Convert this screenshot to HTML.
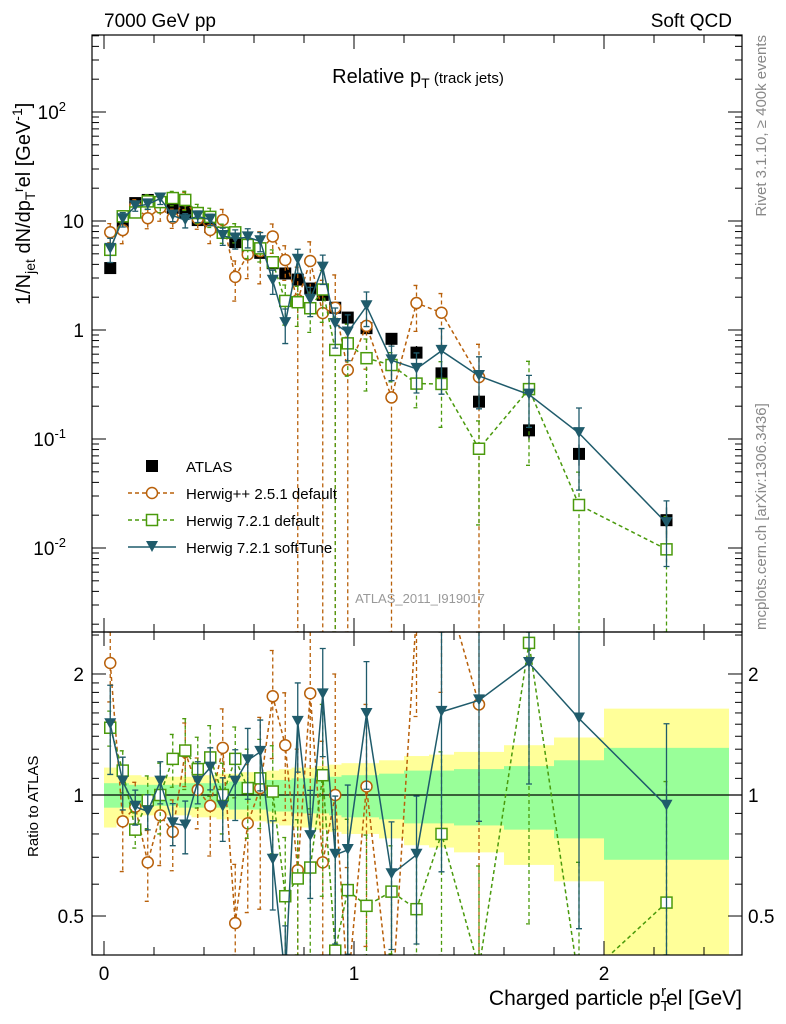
<!DOCTYPE html>
<html><head><meta charset="utf-8"><style>
html,body{margin:0;padding:0;background:#fff;width:786px;height:1024px;overflow:hidden}
svg{display:block;font-family:"Liberation Sans",sans-serif}
</style></head><body>
<svg id="c" width="786" height="1024" viewBox="0 0 786 1024">
<defs>
<clipPath id="cm"><rect x="92" y="35" width="650" height="597"/></clipPath>
<clipPath id="cr"><rect x="92" y="632" width="650" height="323"/></clipPath>
</defs>
<g id="bands" clip-path="url(#cr)"></g>
<g id="marks"></g>
<rect x="92" y="35" width="650" height="597" fill="none" stroke="#000" stroke-width="1.2"/>
<rect x="92" y="632" width="650" height="323" fill="none" stroke="#000" stroke-width="1.2"/>
<g id="ticks" stroke="#000" stroke-width="1"></g>
<g id="labels" font-size="19"></g>
<text x="104" y="27" font-size="19">7000 GeV pp</text>
<text x="732" y="27" font-size="19" text-anchor="end">Soft QCD</text>
<text x="418" y="83" font-size="20" text-anchor="middle">Relative p<tspan font-size="14" dy="5">T</tspan><tspan font-size="15" dy="-5"> (track jets)</tspan></text>
<text transform="translate(766,35) rotate(-90)" font-size="15" fill="#888" text-anchor="end">Rivet 3.1.10, ≥ 400k events</text>
<text transform="translate(766,630) rotate(-90)" font-size="15" fill="#888">mcplots.cern.ch [arXiv:1306.3436]</text>
<text transform="translate(30,305) rotate(-90)" font-size="20">1/N<tspan font-size="14" dy="5">jet</tspan><tspan dy="-5"> dN/dp</tspan><tspan font-size="14" dy="5">T</tspan><tspan font-size="14" dy="-12">r</tspan><tspan dy="7">el [GeV</tspan><tspan font-size="14" dy="-8">-1</tspan><tspan dy="8">]</tspan></text>
<text transform="translate(38,857) rotate(-90)" font-size="15">Ratio to ATLAS</text>
<text x="742" y="1005" font-size="21" text-anchor="end">Charged particle p<tspan font-size="15" dy="6">T</tspan><tspan font-size="15" dy="-15" dx="-8">r</tspan><tspan dy="9">el [GeV]</tspan></text>
<text x="420" y="603" font-size="13" fill="#999" text-anchor="middle">ATLAS_2011_I919017</text>
<g id="legend" font-size="15"></g>
</svg>
<script>
const edges=[0,0.05,0.1,0.15,0.2,0.25,0.3,0.35,0.4,0.45,0.5,0.55,0.6,0.65,0.7,0.75,0.8,0.85,0.9,0.95,1.0,1.1,1.2,1.3,1.4,1.6,1.8,2.0,2.5];
const atlas=[3.7,9.6,14.6,15.6,14.9,13.2,12.1,10.2,8.8,7.8,6.4,5.8,5.1,4.1,3.3,2.9,2.4,2.1,1.6,1.3,1.04,0.83,0.62,0.40,0.22,0.12,0.073,0.018];
const statUnc=[0.07,0.07,0.06,0.06,0.06,0.06,0.07,0.07,0.07,0.07,0.08,0.08,0.08,0.09,0.09,0.1,0.1,0.1,0.11,0.12,0.12,0.13,0.15,0.15,0.16,0.18,0.22,0.31];
const totUnc=[0.17,0.15,0.12,0.11,0.11,0.11,0.11,0.12,0.12,0.13,0.13,0.14,0.14,0.15,0.16,0.17,0.17,0.18,0.19,0.2,0.2,0.22,0.25,0.26,0.28,0.33,0.39,0.64];
const herwigOldRatio=[2.13,0.86,0.935,0.68,0.89,0.81,1.28,1.03,0.94,1.31,0.48,0.85,1.04,1.76,1.33,0.65,1.79,0.68,1.0,0.33,1.05,0.29,2.85,3.6,1.68];
const herwigOldErr=[0.2,0.25,0.15,0.2,0.25,0.2,0.18,0.2,0.25,0.25,0.4,0.4,0.5,0.3,0.35,1.0,0.5,1.0,1.0,1.0,0.6,1.0,0.45,0.5,1.0];
const herwig72Ratio=[1.47,1.15,0.82,0.97,1.0,1.23,1.29,1.16,1.24,1.0,1.23,1.04,1.10,1.02,0.56,0.62,0.66,1.12,0.41,0.58,0.53,0.575,0.52,0.80,0.37,2.39,0.34,0.54];
const herwig72Err=[0.1,0.12,0.1,0.15,0.2,0.15,0.2,0.2,0.2,0.2,0.2,0.25,0.25,0.3,0.4,0.4,0.4,0.5,1.0,0.5,0.5,0.3,0.4,0.6,0.8,0.8,1.0,1.0];
const softTuneRatio=[1.50,1.08,0.935,0.91,1.08,0.85,0.84,1.08,1.17,0.935,1.08,1.22,1.28,0.69,0.35,1.52,0.79,1.78,0.71,0.73,1.59,0.635,0.71,1.61,1.72,2.13,1.55,0.94];
const softTuneErr=[0.25,0.15,0.1,0.1,0.12,0.12,0.15,0.12,0.12,0.18,0.2,0.2,0.2,0.25,0.35,0.25,0.3,0.3,0.4,0.45,0.35,0.35,0.4,0.6,0.5,0.5,0.7,0.6];
const xTicks=[0,1,2];
const yTicks=[-2,-1,0,1,2];
const rTicks=[0.5,1,2];

const NS='http://www.w3.org/2000/svg';
const X=v=>104+250*v;
const Y=v=>330-109*Math.log10(v);
const R=v=>795-402*Math.log10(v);
const cm=y=>Math.min(Math.max(y,35),632);
const cr=y=>Math.min(Math.max(y,632),955);
const cen=i=>(edges[i]+edges[i+1])/2;
function mk(tag,par,at){const e=document.createElementNS(NS,tag);for(const k in at)e.setAttribute(k,at[k]);par.appendChild(e);return e;}
const marks=document.getElementById('marks');
const mainG=mk('g',marks,{'clip-path':'url(#cm)'});


const ratG=mk('g',marks,{'clip-path':'url(#cr)'});



const bands=document.getElementById('bands');
for(let i=0;i<atlas.length;i++){
  const x0=X(edges[i]),x1=X(edges[i+1]);
  const top=cr(R(1+totUnc[i])),bot=cr(R(Math.max(1-totUnc[i],0.01)));
  const yb=mk('rect',bands,{x:x0,y:top,width:x1-x0,height:bot-top,fill:'#ffff99'});
  
  
  const gb=mk('rect',bands,{x:x0,y:R(1+statUnc[i]),width:x1-x0,height:R(1-statUnc[i])-R(1+statUnc[i]),fill:'#99ff99'});
  
  
}
const ref=mk('line',ratG,{x1:92,x2:742,y1:R(1),y2:R(1),stroke:'#000','stroke-width':1.3});



function marker(g,type,x,y,col){
  let e;
  if(type==='circle')e=mk('circle',g,{cx:x,cy:y,r:5.5,fill:'#fff',stroke:col,'stroke-width':1.5});
  else if(type==='square')e=mk('rect',g,{x:x-5.5,y:y-5.5,width:11,height:11,fill:'#fff',stroke:col,'stroke-width':1.5});
  else if(type==='tri')e=mk('path',g,{d:`M${x-6},${y-6}L${x+6},${y-6}L${x},${y+5}Z`,fill:col});
  else e=mk('rect',g,{x:x-6,y:y-6,width:12,height:12,fill:col});
  return e;
}
function series(name,ratio,err,col,type,dash){
  const gm=mk('g',mainG,{});
  
  
  const gr=mk('g',ratG,{});
  
  
  const da=dash?{'stroke-dasharray':'4,3'}:{};
  let pm='',pr='';
  ratio.forEach((r,i)=>{
    const v=r*atlas[i],x=X(cen(i));
    pm+=(i?'L':'M')+x+','+Y(v);pr+=(i?'L':'M')+x+','+R(r);
  });
  const lm=mk('path',gm,Object.assign({d:pm,fill:'none',stroke:col,'stroke-width':1.5},da));
  
  
  const lr=mk('path',gr,Object.assign({d:pr,fill:'none',stroke:col,'stroke-width':1.5},da));
  
  
  ratio.forEach((r,i)=>{
    const v=r*atlas[i],x=X(cen(i)),e=err[i];
    const lo=Math.max(1-e,1e-4);
    [[gm,cm(Y(v*(1+e))),cm(Y(v*lo))],[gr,cr(R(r*(1+e))),cr(R(r*lo))]].forEach(([g,a,b])=>{
      if(a===b)return;
      const eb=mk('path',g,Object.assign({d:`M${x},${a}L${x},${b}M${x-3},${a}L${x+3},${a}M${x-3},${b}L${x+3},${b}`,stroke:col,'stroke-width':1.3,fill:'none'},da));
      
      
    });
    const m1=marker(gm,type,x,Y(v),col);
    
    
    const m2=marker(gr,type,x,R(r),col);
    
    
  });
}
const ga=mk('g',mainG,{});


atlas.forEach((v,i)=>{
  const x=X(cen(i));
  const eb=mk('line',ga,{x1:x,x2:x,y1:Y(v*(1+statUnc[i])),y2:Y(v*(1-statUnc[i])),stroke:'#000','stroke-width':1.3});
  
  
  const m=marker(ga,'sq',x,Y(v),'#000');
  
  
});
series('herwig-pp-251',herwigOldRatio,herwigOldErr,'#b8600a','circle',true);
series('herwig-721',herwig72Ratio,herwig72Err,'#4a9a0c','square',true);
series('herwig-721-softtune',softTuneRatio,softTuneErr,'#1f5b6b','tri',false);

const tk=document.getElementById('ticks'),lb=document.getElementById('labels');
function tl(x1,y1,x2,y2,n){const l=mk('line',tk,{x1,y1,x2,y2});}
for(let k=0;k<=12;k++){const v=k*0.2,x=X(v);if(x>742)break;const len=(Math.abs(v-Math.round(v))<1e-6)?14:8;
  [[35,1],[632,-1],[632,1],[955,-1]].forEach(([y,d])=>tl(x,y,x,y+d*len,'x-tick'));}
xTicks.forEach(v=>{const t=mk('text',lb,{x:X(v),y:980,'text-anchor':'middle'});t.textContent=v;});
for(let d=-3;d<=2;d++)for(let m=1;m<10;m++){const y=Y(m*Math.pow(10,d));if(y<35||y>632)continue;const len=m===1?14:7;tl(92,y,92+len,y,'y-tick');tl(742,y,742-len,y,'y-tick');}
yTicks.forEach(d=>{const t=mk('text',lb,{x:84,y:Y(Math.pow(10,d))+7,'text-anchor':'end'});
  
  if(d===0)t.textContent='1';else if(d===1)t.textContent='10';else{t.textContent='10';const s=document.createElementNS(NS,'tspan');s.setAttribute('font-size','13');s.setAttribute('dy','-8');s.textContent=d;t.appendChild(s);t.setAttribute('x',66);}
});
[0.4,0.5,0.6,0.7,0.8,0.9,1,1.1,1.2,1.3,1.4,1.5,1.6,1.7,1.8,1.9,2,2.5].forEach(v=>{const y=R(v);if(y<632||y>955)return;const len=(v===0.5||v===1||v===2)?14:7;tl(92,y,92+len,y,'ratio-tick');tl(742,y,742-len,y,'ratio-tick');});
rTicks.forEach(v=>{const y=R(v)+7;
  const a=mk('text',lb,{x:84,y,'text-anchor':'end'});a.textContent=v;
  const b=mk('text',lb,{x:748,y});b.textContent=v;});

const lg=document.getElementById('legend');
const items=[['ATLAS','#000','sq',false],['Herwig++ 2.5.1 default','#b8600a','circle',true],['Herwig 7.2.1 default','#4a9a0c','square',true],['Herwig 7.2.1 softTune','#1f5b6b','tri',false]];
items.forEach((it,i)=>{const y=466+i*27;const g=mk('g',lg,{});
  
  if(i>0){const l=mk('line',g,{x1:128,x2:176,y1:y,y2:y,stroke:it[1],'stroke-width':1.5});if(it[3])l.setAttribute('stroke-dasharray','4,3');}
  marker(g,it[2],152,y,it[1]);
  const t=mk('text',g,{x:186,y:y+6});t.textContent=it[0];});
</script>
</body></html>
